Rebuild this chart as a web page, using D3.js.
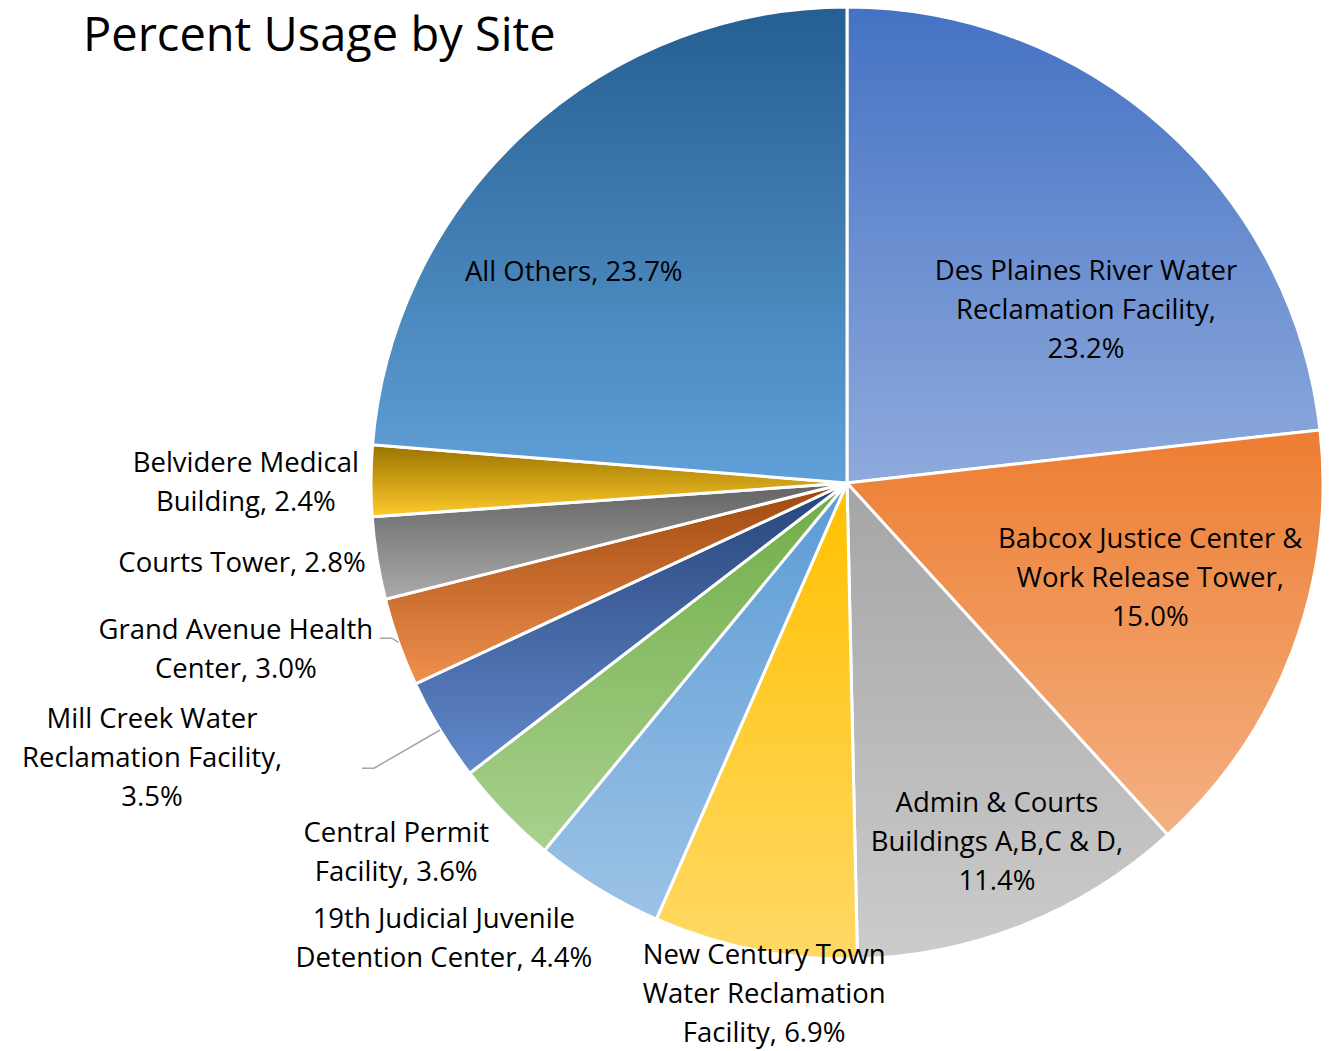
<!DOCTYPE html>
<html>
<head>
<meta charset="utf-8">
<script src="https://cdn.jsdelivr.net/npm/d3@7"></script>
<style>
  body { margin: 0; background: #fff; }
  text { font-family: "Open Sans", Lato, sans-serif; fill: #000; }
</style>
</head>
<body>
<svg class="chart" width="1329" height="1051"></svg>
<script>
// data, clockwise from 12 o'clock
var sites = ["Des Plaines River Water Reclamation Facility",
    "Babcox Justice Center & Work Release Tower",
    "Admin & Courts Buildings A,B,C & D",
    "New Century Town Water Reclamation Facility",
    "19th Judicial Juvenile Detention Center",
    "Central Permit Facility",
    "Mill Creek Water Reclamation Facility",
    "Grand Avenue Health Center",
    "Courts Tower",
    "Belvidere Medical Building",
    "All Others"];
var percents = [23.2, 15.0, 11.4, 6.9, 4.4, 3.6, 3.5, 3.0, 2.8, 2.4, 23.7];
var topColors = ["#4472c4","#ed7d31","#a5a5a5","#ffc000","#5b9bd5","#70ad47",
    "#264478","#9e480e","#636363","#997300","#255e91"];
var bottomColors = ["#8faadc","#f4b183","#cccccc","#ffd966","#9dc3e6","#a9d18e",
    "#6389cd","#f0904e","#ababab","#ffca2b","#60a0d8"];
// how each label is wrapped
var labelLines = [
    ["Des Plaines River Water", "Reclamation Facility,", "23.2%"],
    ["Babcox Justice Center &", "Work Release Tower,", "15.0%"],
    ["Admin & Courts", "Buildings A,B,C & D,", "11.4%"],
    ["New Century Town", "Water Reclamation", "Facility, 6.9%"],
    ["19th Judicial Juvenile", "Detention Center, 4.4%"],
    ["Central Permit", "Facility, 3.6%"],
    ["Mill Creek Water", "Reclamation Facility,", "3.5%"],
    ["Grand Avenue Health", "Center, 3.0%"],
    ["Courts Tower, 2.8%"],
    ["Belvidere Medical", "Building, 2.4%"],
    ["All Others, 23.7%"]];

var svg = d3.select(".chart");
var cx = 847, cy = 483, r = 476;
var lineH = 39;

// label block centres, in units of the radius from the pie centre
var labelAt = [[0.502,-0.366],[0.637,0.197],[0.315,0.752],[-0.174,1.071],
    [-0.847,0.955],[-0.947,0.774],[-1.460,0.576],[-1.284,0.348],
    [-1.271,0.166],[-1.263,-0.003],[-0.574,-0.445]];
// leader lines: index -> end of the line, relative to label centre
var leaders = {6: [210, 11], 7: [144, -10.5]};

var defs = svg.append("defs");
percents.forEach(function(p, i){
    var g = defs.append("linearGradient")
        .attr("id", "grad" + i)
        .attr("x1", 0).attr("y1", 0).attr("x2", 0).attr("y2", 1);
    g.append("stop").attr("offset", "0%").attr("stop-color", topColors[i]);
    g.append("stop").attr("offset", "100%").attr("stop-color", bottomColors[i]);
});

var pie = d3.pie().sort(null).value(function(d){ return d; });
var arcs = pie(percents);
var arc = d3.arc().innerRadius(0).outerRadius(r);
var edge = d3.arc().innerRadius(r).outerRadius(r);

var g = svg.append("g").attr("transform", "translate(" + cx + "," + cy + ")");

g.selectAll("path.slice")
    .data(arcs)
    .enter()
    .append("path")
    .attr("class", "slice")
    .attr("d", arc)
    .attr("fill", function(d, i){ return "url(#grad" + i + ")"; })
    .attr("stroke", "#fff")
    .attr("stroke-width", 3)
    .attr("stroke-linejoin", "round");

// leader lines
Object.keys(leaders).forEach(function(k){
    var i = +k;
    var p = edge.centroid(arcs[i]);
    var lx = labelAt[i][0]*r + leaders[i][0];
    var ly = labelAt[i][1]*r + leaders[i][1];
    var pts = [p, [lx + 12, ly], [lx, ly]];
    g.append("path")
        .attr("d", d3.line()(pts))
        .attr("fill", "none")
        .attr("stroke", "#a6a6a6")
        .attr("stroke-width", 1.5);
});

var labels = g.selectAll("text.label")
    .data(arcs)
    .enter()
    .append("text")
    .attr("class", "label")
    .attr("text-anchor", "middle")
    .style("font-size", "27.5px")
    .attr("transform", function(d, i){
        return "translate(" + (labelAt[i][0]*r) + "," + (labelAt[i][1]*r) + ")";
    });

labels.each(function(d, i){
    var n = labelLines[i].length;
    d3.select(this).selectAll("tspan")
        .data(labelLines[i])
        .enter()
        .append("tspan")
        .attr("x", 0)
        .attr("y", function(t, j){ return (j - (n-1)/2)*lineH + 10; })
        .text(function(t){ return t; });
});

svg.append("text")
    .attr("x", 83)
    .attr("y", 51)
    .style("font-size", "47px")
    .text("Percent Usage by Site");
</script>
</body>
</html>
